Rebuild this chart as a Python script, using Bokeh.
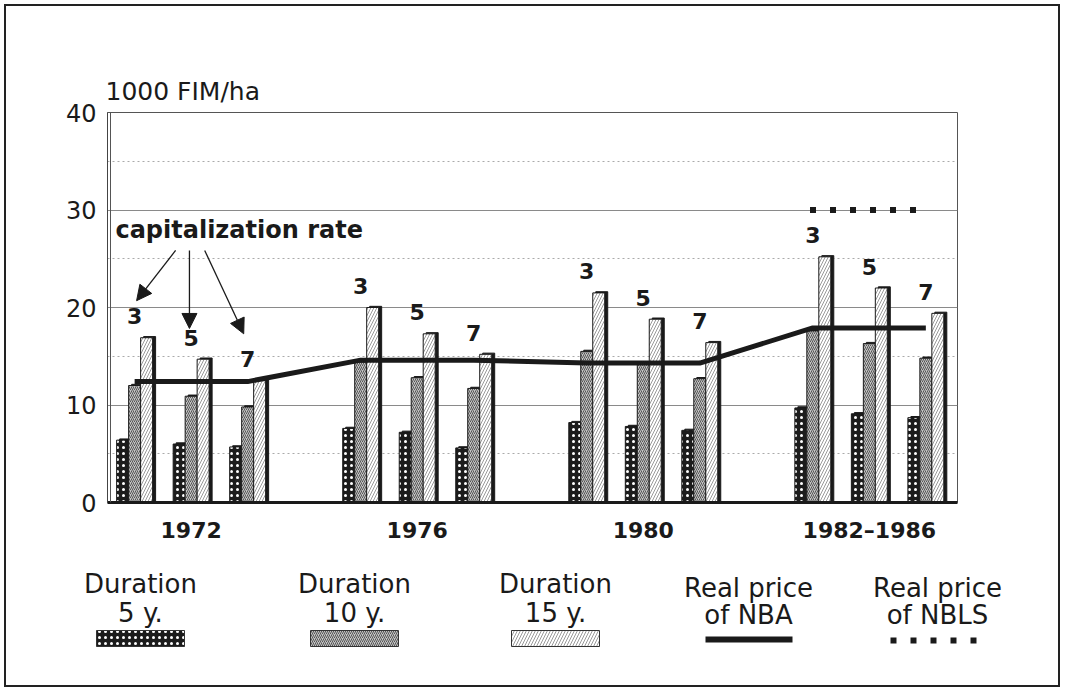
from bokeh.plotting import figure
from bokeh.models import Range1d, FixedTicker, Span, Arrow, NormalHead, ColumnDataSource, Label
from bokeh.layouts import column
from bokeh.embed import file_html
from bokeh.resources import INLINE
from bokeh.core.properties import value

# ---------------- data ----------------
periods = ["1972", "1976", "1980", "1982–1986"]
rates = ["3", "5", "7"]
dur5 = [6.4, 6.0, 5.7, 7.6, 7.2, 5.6, 8.2, 7.8, 7.4, 9.7, 9.1, 8.7]
dur10 = [12.0, 10.9, 9.8, 14.4, 12.8, 11.7, 15.5, 14.2, 12.7, 17.6, 16.3, 14.8]
dur15 = [16.9, 14.7, 12.5, 20.0, 17.3, 15.2, 21.5, 18.8, 16.4, 25.2, 22.0, 19.4]
nba = [12.4, 14.6, 14.3, 17.9]
nbls = [None, None, None, 30.0]
y_ticks = [0, 10, 20, 30, 40]
y_minor = [5, 15, 25, 35]
legend_lines = [("Duration", "5 y."), ("Duration", "10 y."), ("Duration", "15 y."),
                ("Real price", "of NBA"), ("Real price", "of NBLS")]

FONT = value("DejaVu Sans")
INK = "#1a1a1a"

# ---------------- layout helpers ----------------
slots = [4 * g + r for g in range(len(periods)) for r in range(len(rates))]
bw = 0.212
px = 850 / 15.04          # pixels per slot unit
dx = 3 / px               # shadow offset

p = figure(width=1052, height=544, x_range=Range1d(-0.48, 14.56), y_range=Range1d(0, 40),
           output_backend="svg", toolbar_location=None,
           min_border_left=101, min_border_right=101, min_border_top=106, min_border_bottom=48)
p.frame_align = False
p.background_fill_color = "white"
p.border_fill_color = "white"
p.outline_line_color = "#555"
p.outline_line_width = 1

p.title.text = "1000 FIM/ha"
p.title.text_font = "DejaVu Sans"
p.title.text_font_size = "25px"
p.title.text_font_style = "normal"
p.title.text_color = INK
p.title.align = "left"
p.title.offset = -2
p.title.standoff = 14

p.xgrid.grid_line_color = None
p.yaxis.ticker = FixedTicker(ticks=y_ticks, minor_ticks=y_minor)
p.ygrid.grid_line_color = "#8a8a8a"
p.ygrid.grid_line_width = 1
p.ygrid.minor_grid_line_color = "#aaa"
p.ygrid.minor_grid_line_dash = "2 3"

p.yaxis.axis_line_color = "#444"
p.yaxis.major_tick_line_color = None
p.yaxis.minor_tick_line_color = None
p.yaxis.major_tick_out = 0
p.yaxis.minor_tick_out = 0
p.yaxis.major_label_text_font = "DejaVu Sans"
p.yaxis.major_label_text_font_size = "24px"
p.yaxis.major_label_text_color = INK
p.yaxis.major_label_standoff = 11

p.xaxis.ticker = FixedTicker(ticks=[4 * g + 1 for g in range(len(periods))])
p.xaxis.major_label_overrides = {4 * g + 1: periods[g] for g in range(len(periods))}
p.xaxis.axis_line_width = 3
p.xaxis.axis_line_color = INK
p.xaxis.major_tick_line_color = None
p.xaxis.minor_tick_line_color = None
p.xaxis.major_tick_out = 0
p.xaxis.minor_tick_out = 0
p.xaxis.major_label_text_font = "DejaVu Sans"
p.xaxis.major_label_text_font_style = "bold"
p.xaxis.major_label_text_font_size = "22px"
p.xaxis.major_label_text_color = INK
p.xaxis.major_label_standoff = 15

# double wall line on the left
p.add_layout(Span(location=-0.48 + 3 / px, dimension="height", line_color="#555", line_width=1))

styles = [
    dict(fill_color="#1c1c1c", hatch_pattern="dot", hatch_color="white", hatch_scale=6, hatch_weight=1),
    dict(fill_color="#c4c4c4", hatch_pattern="right_diagonal_line", hatch_color="#555555", hatch_scale=4, hatch_weight=1),
    dict(fill_color="white", hatch_pattern="right_diagonal_line", hatch_color="#9a9a9a", hatch_scale=6, hatch_weight=1),
]

for k, (vals, off) in enumerate([(dur5, -bw), (dur10, 0.0), (dur15, bw)]):
    src = ColumnDataSource(dict(x=[s + off for s in slots], top=vals,
                                xs=[s + off + dx for s in slots], ts=[v + 0.12 for v in vals]))
    p.vbar(x="xs", top="ts", bottom=0, width=bw, source=src, fill_color=INK, line_color=INK)
    p.vbar(x="x", top="top", bottom=0, width=bw, source=src, line_color=INK, line_width=1, **styles[k])

# NBA real price line
nx, ny = [], []
for g, v in enumerate(nba):
    nx += [4 * g, 4 * g + 2]
    ny += [v, v]
p.line(nx, ny, line_color=INK, line_width=5, line_join="round")

# NBLS real price (dotted)
for g, v in enumerate(nbls):
    if v is not None:
        p.line([4 * g - 0.05, 4 * g + 1.9], [v, v], line_color=INK, line_width=6, line_dash="6 14")

# capitalization-rate labels above each cluster
lab_x, lab_y, lab_t = [], [], []
for i, s in enumerate(slots):
    lab_x.append(s)
    lab_y.append(max(dur5[i], dur10[i], dur15[i]) + 2.2)
    lab_t.append(rates[i % 3])
p.text(lab_x, lab_y, text=lab_t, text_font=FONT, text_font_style="bold", text_font_size="22px",
       text_align="center", text_baseline="middle", text_color=INK)

p.add_layout(Label(x=-0.34, y=27.9, text="capitalization rate", text_font="DejaVu Sans",
                   text_font_style="bold", text_font_size="24px", text_baseline="middle",
                   text_align="left", text_color=INK))

# arrows from the annotation to the 1972 labels
arrow_ends = [(0.725, 25.85, 0.035, 20.7), (0.97, 25.85, 0.97, 17.85), (1.24, 25.85, 1.93, 17.3)]
for xs_, ys_, xe, ye in arrow_ends:
    p.add_layout(Arrow(x_start=xs_, y_start=ys_, x_end=xe, y_end=ye, line_width=1.3, line_color=INK,
                       end=NormalHead(size=15, fill_color=INK, line_color=INK, line_width=1)))

# ---------------- legend panel ----------------
leg = figure(width=1052, height=135, x_range=Range1d(6, 1058), y_range=Range1d(685, 550),
             output_backend="svg", toolbar_location=None, min_border=0,
             x_axis_type=None, y_axis_type=None)
leg.frame_align = False
leg.outline_line_color = None
leg.background_fill_color = "white"
leg.border_fill_color = "white"

centers = [140, 354, 555, 748, 937]
for i, (l1, l2) in enumerate(legend_lines):
    c = centers[i]
    yo = 0 if i < 3 else 4
    leg.text([c], [583 + yo], text=[l1], text_font=FONT, text_font_size="26px",
             text_align="center", text_baseline="middle", text_color=INK)
    leg.text([c], [612 + yo * 0.5], text=[l2], text_font=FONT, text_font_size="26px",
             text_align="center", text_baseline="middle", text_color=INK)
    if i < 3:
        leg.quad(left=[c - 44], right=[c + 44], top=[630], bottom=[646], line_color="#333",
                 line_width=1, **styles[i])
    elif i == 3:
        leg.line([c - 43, c + 44], [639, 639], line_color=INK, line_width=6)
    else:
        leg.line([c - 47, c + 42], [640, 640], line_color=INK, line_width=6, line_dash="6 14")

layout = column(p, leg, styles={"border": "2px solid #222", "margin": "4px 0 0 4px"})
open("out.html", "w").write(file_html(layout, INLINE))
